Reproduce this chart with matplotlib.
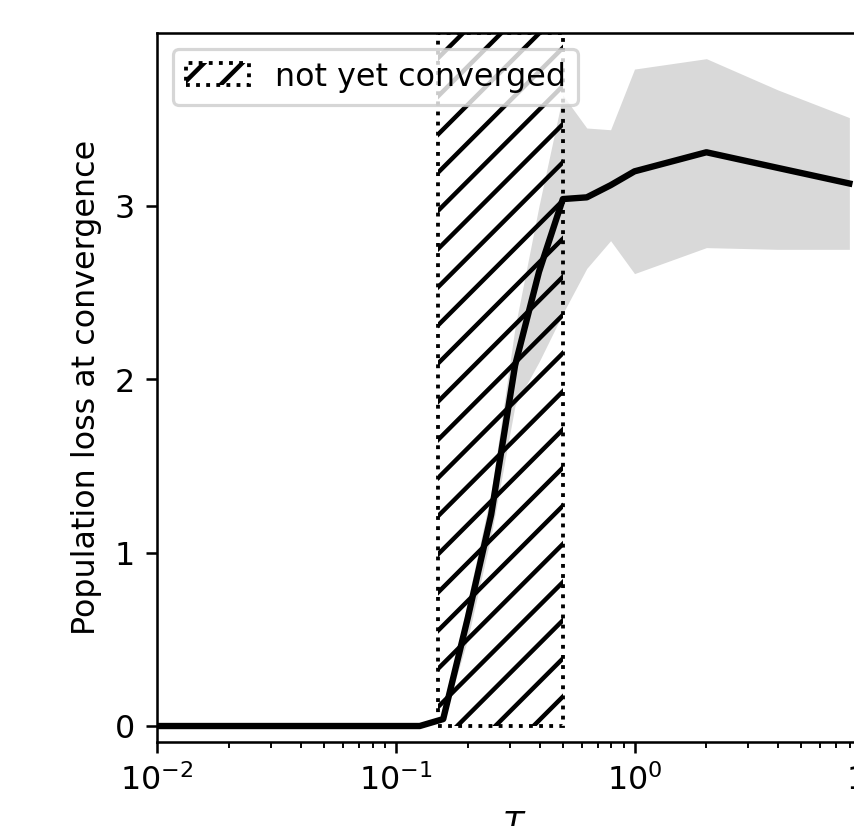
import matplotlib
matplotlib.use('Agg')
import matplotlib.pyplot as plt
from matplotlib.patches import Rectangle

# temperature grid and loss statistics
T = [0.01, 0.02, 0.05, 0.1, 0.126, 0.158, 0.2, 0.251, 0.316, 0.398, 0.501,
     0.631, 0.794, 1.0, 2.0, 3.98, 7.94]
loss_mean = [0.0, 0.0, 0.0, 0.0, 0.0, 0.04, 0.62, 1.22, 2.08, 2.62, 3.04,
             3.05, 3.12, 3.2, 3.31, 3.22, 3.13]
loss_lo = [0.0, 0.0, 0.0, 0.0, 0.0, 0.03, 0.5, 1.1, 1.85, 2.1, 2.38,
           2.64, 2.8, 2.61, 2.76, 2.75, 2.75]
loss_hi = [0.0, 0.0, 0.0, 0.0, 0.0, 0.06, 0.72, 1.35, 2.3, 3.0, 3.64,
           3.45, 3.44, 3.79, 3.85, 3.67, 3.51]

# region where runs had not converged
T_unconv = (0.15, 0.5)
unconv_label = 'not yet converged'

plt.rcParams['hatch.linewidth'] = 1.4

DPI = 229
fig = plt.figure(figsize=(854.3 / DPI, 826.3 / DPI), dpi=DPI)
ax = fig.add_axes([0.1838, 0.1017, 0.8384, 0.8584])

ax.fill_between(T, loss_lo, loss_hi, color='#d9d9d9', linewidth=0, zorder=1)

rect = Rectangle((T_unconv[0], 0), T_unconv[1] - T_unconv[0], 4.0,
                 fill=False, hatch='//', edgecolor='k', linestyle=':',
                 linewidth=1.2, label=unconv_label, zorder=2)
ax.add_patch(rect)

ax.plot(T, loss_mean, color='k', linewidth=2, zorder=3)

ax.set_xscale('log')
ax.set_xlim(0.01, 10)
ax.set_ylim(-0.092, 4.0)
ax.set_yticks([0, 1, 2, 3])
ax.set_xlabel('$T$')
ax.set_ylabel('Population loss at convergence')
ax.legend(loc='upper left')

fig.savefig('out.png', dpi=DPI)
